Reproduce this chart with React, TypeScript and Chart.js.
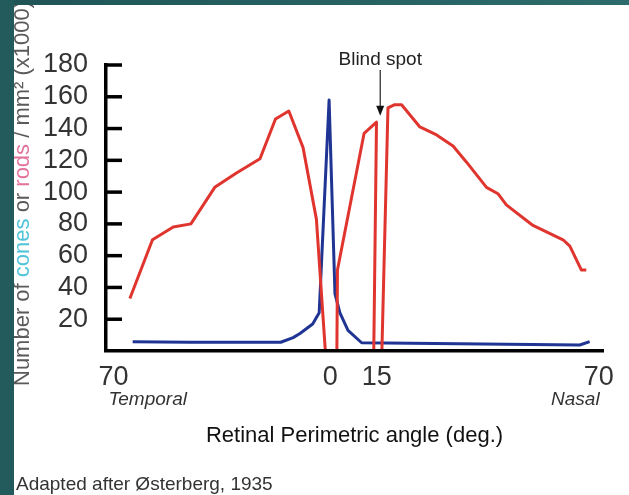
import React, { useEffect, useRef } from "react";
import { Chart, registerables } from "chart.js";

Chart.register(...registerables);

// Rod density (x1000 / mm²) along the horizontal meridian; null = gap
const rodAngles = [-64.7, -57.4, -50.7, -45.0, -37.3, -30.3, -22.7, -17.7, -13.4, -8.8, -4.5, -1.5, 0.3, 2.1, 2.3, 10.9, 14.9, 14.0, 15.3, 16.6, 18.6, 20.8, 23.0, 28.9, 34.3, 39.6, 43.9, 50.4, 54.1, 56.8, 65.4, 75.1, 77.3, 81.0, 82.6];
const rodDensity = [33, 70, 78, 80, 103, 112, 121, 146, 151, 128, 83, -3, null, -3, 51, 137, 144, -3, null, -3, 153, 155, 155, 141, 136, 129, 119, 103, 99, 92, 79, 70, 66, 51, 51];

// Cone density (x1000 / mm²)
const coneAngles = [-63.8, -45.3, -16.0, -12.0, -9.8, -5.7, -3.6, -0.4, 1.5, 3.1, 5.7, 10.1, 80.5, 83.7];
const coneDensity = [5.9, 5.5, 5.5, 8.4, 11, 17, 24, 158, 36, 24, 13, 5.2, 3.8, 5.9];

const yTickValues = [20, 40, 60, 80, 100, 120, 140, 160, 180];
const xTickPositions = [-70, 0, 15, 86.6];
const xTickLabels = ["70", "0", "15", "70"];
const sideLabels = ["Temporal", "Nasal"];
const blindSpotAngle = 16.1;
const blindSpotTip = 148;
const blindSpotLabel = "Blind spot";
const yTitleParts: [string, string][] = [
  ["Number of ", "#5a5a5a"],
  ["cones", "#4fc4d8"],
  [" or ", "#5a5a5a"],
  ["rods", "#e2739d"],
  [" / mm\u00b2 (x1000)", "#5a5a5a"],
];
const xTitle = "Retinal Perimetric angle (deg.)";
const sourceNote = "Adapted after \u00d8sterberg, 1935";

const FONT = "'Liberation Sans', Arial, Helvetica, sans-serif";

const annotPlugin = {
  id: "annot",
  afterDraw(chart: any) {
    const ctx = chart.ctx;
    const xs = chart.scales.x;
    const ys = chart.scales.y;
    const area = chart.chartArea;
    ctx.save();

    // inner tick marks on the y axis
    ctx.strokeStyle = "#000";
    ctx.lineWidth = 3.5;
    yTickValues.forEach((v) => {
      const y = ys.getPixelForValue(v);
      ctx.beginPath();
      ctx.moveTo(area.left, y);
      ctx.lineTo(area.left + 16, y);
      ctx.stroke();
    });

    // side labels
    ctx.font = `italic 19px ${FONT}`;
    ctx.fillStyle = "#333";
    ctx.textBaseline = "alphabetic";
    ctx.textAlign = "left";
    ctx.fillText(sideLabels[0], xs.getPixelForValue(xTickPositions[0]) - 5, 405);
    ctx.textAlign = "right";
    ctx.fillText(sideLabels[1], xs.getPixelForValue(xTickPositions[3]) + 1, 405);

    // blind spot annotation
    const bx = xs.getPixelForValue(blindSpotAngle);
    const tipY = ys.getPixelForValue(blindSpotTip);
    ctx.font = `19px ${FONT}`;
    ctx.fillStyle = "#222";
    ctx.textAlign = "center";
    ctx.fillText(blindSpotLabel, bx, 65);
    ctx.strokeStyle = "#222";
    ctx.lineWidth = 1.2;
    ctx.beginPath();
    ctx.moveTo(bx, 70);
    ctx.lineTo(bx, tipY - 8);
    ctx.stroke();
    ctx.fillStyle = "#111";
    ctx.beginPath();
    ctx.moveTo(bx, tipY);
    ctx.lineTo(bx - 4, tipY - 10);
    ctx.lineTo(bx + 4, tipY - 10);
    ctx.closePath();
    ctx.fill();

    // source note
    ctx.font = `19px ${FONT}`;
    ctx.fillStyle = "#333";
    ctx.textAlign = "left";
    ctx.fillText(sourceNote, 16, 490);

    // y title, multi-coloured, rotated
    ctx.save();
    ctx.translate(29, 386);
    ctx.rotate(-Math.PI / 2);
    ctx.font = `22px ${FONT}`;
    ctx.textAlign = "left";
    let off = 0;
    yTitleParts.forEach(([t, c]) => {
      ctx.fillStyle = c;
      ctx.fillText(t, off, 0);
      off += ctx.measureText(t).width;
    });
    ctx.restore();

    // teal frame bands
    const g = ctx.createLinearGradient(0, 0, chart.width, 0);
    g.addColorStop(0, "#1f5457");
    g.addColorStop(1, "#2d6c6c");
    ctx.fillStyle = g;
    ctx.fillRect(0, 0, chart.width, 5);
    ctx.fillStyle = "#235b5c";
    ctx.fillRect(0, 0, 14, chart.height);

    ctx.restore();
  },
};

export default function App() {
  const ref = useRef<HTMLCanvasElement | null>(null);
  useEffect(() => {
    if (!ref.current) return;
    const chart = new Chart(ref.current, {
      type: "line",
      data: {
        datasets: [
          {
            label: "Rods",
            data: rodAngles.map((x, i) => ({ x, y: rodDensity[i] })) as any,
            borderColor: "#e0352e",
            borderWidth: 3,
            pointRadius: 0,
            tension: 0,
            spanGaps: false,
            borderJoinStyle: "round",
          },
          {
            label: "Cones",
            data: coneAngles.map((x, i) => ({ x, y: coneDensity[i] })) as any,
            borderColor: "#203593",
            borderWidth: 3,
            pointRadius: 0,
            tension: 0,
            borderJoinStyle: "round",
          },
        ],
      },
      options: {
        responsive: false,
        animation: false,
        layout: { padding: { left: 0, right: 26, top: 65, bottom: 0 } },
        plugins: { legend: { display: false }, tooltip: { enabled: false } },
        scales: {
          x: {
            type: "linear",
            min: -72.4,
            max: 88,
            grid: { display: false, drawTicks: false },
            border: { display: true, color: "#000", width: 3.5, z: 1 } as any,
            afterBuildTicks: (s: any) => {
              s.ticks = xTickPositions.map((v) => ({ value: v }));
            },
            afterFit: (s: any) => {
              s.height = 144;
            },
            ticks: {
              autoSkip: false,
              maxRotation: 0,
              padding: 13,
              font: { family: FONT, size: 27, lineHeight: 1 },
              color: "#333",
              callback: (_v: any, i: number) => xTickLabels[i],
            },
            title: {
              display: true,
              text: xTitle,
              font: { family: FONT, size: 22 },
              color: "#111",
              padding: { top: 0, bottom: 46 },
            },
          },
          y: {
            type: "linear",
            min: 0,
            max: 180,
            grid: { display: false, drawTicks: false },
            border: { display: true, color: "#000", width: 3.5, z: 1 } as any,
            afterBuildTicks: (s: any) => {
              s.ticks = yTickValues.map((v) => ({ value: v }));
            },
            afterFit: (s: any) => {
              s.width = 106;
            },
            ticks: {
              autoSkip: false,
              padding: 18,
              font: { family: FONT, size: 27, lineHeight: 1 },
              color: "#333",
              callback: (v: any) => String(v),
            },
          },
        },
      },
      plugins: [annotPlugin],
    });
    return () => chart.destroy();
  }, []);
  return (
    <canvas
      ref={ref}
      width={629}
      height={495}
      style={{ position: "fixed", left: 0, top: 0, width: 629, height: 495, background: "#fff" }}
    />
  );
}
